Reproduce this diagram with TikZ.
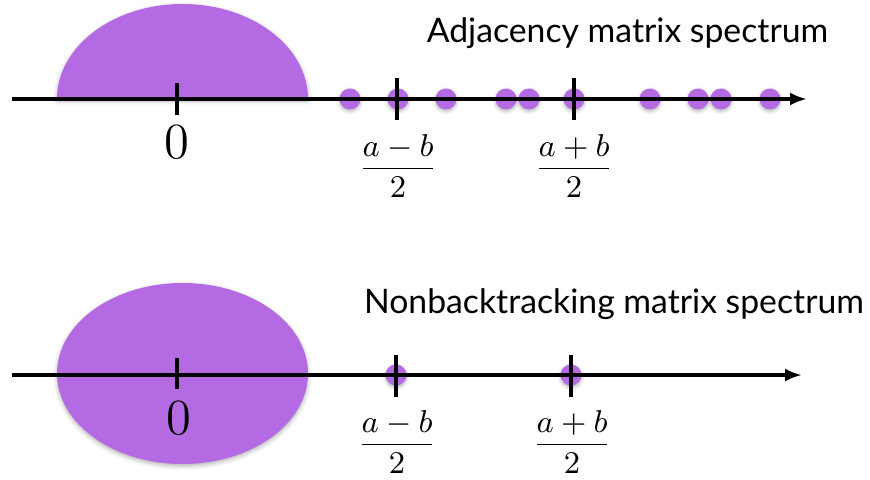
\documentclass[tikz,border=0pt]{standalone}
\usepackage{amsmath}
\usepackage{fontspec}
\setsansfont{Lato}
\usetikzlibrary{arrows.meta,shadows.blur}
\definecolor{violetSpec}{RGB}{180,106,226}

\begin{document}
\begin{tikzpicture}[font=\sffamily,
  dot/.style={circle, fill=violetSpec, inner sep=0pt, minimum size=0.21cm,
              blur shadow={shadow xshift=0pt, shadow yshift=-0.5pt,
                           shadow blur radius=1pt, shadow opacity=30}},
  ombre/.style={blur shadow={shadow xshift=0pt, shadow yshift=-0.6pt,
                             shadow blur radius=1.2pt, shadow opacity=30}},
  axe/.style={-{Latex[length=0.17cm,width=0.13cm]}, line width=0.95pt},
  tickline/.style={line width=1pt},
  titre/.style={font=\sffamily\fontsize{9.6}{12}\selectfont, anchor=base},
  zero/.style={font=\fontsize{14}{16}\selectfont},
  fraction/.style={font=\fontsize{9}{11}\selectfont}]

\useasboundingbox (0,0) rectangle (8.7,4.79);

% --- spectre de la matrice d'adjacence ---
\fill[violetSpec, ombre] (0.57,3.80) arc[start angle=180, end angle=0,
      x radius=1.255, y radius=0.95] -- cycle;

\node[dot] (a1) at (3.50,3.80) {};
\node[dot] (a2) at (3.98,3.80) {};
\node[dot] (a3) at (4.46,3.80) {};
\node[dot] (a4) at (5.06,3.80) {};
\node[dot] (a5) at (5.29,3.80) {};
\node[dot] (a6) at (5.74,3.80) {};
\node[dot] (a7) at (6.50,3.80) {};
\node[dot] (a8) at (6.98,3.80) {};
\node[dot] (a9) at (7.21,3.80) {};
\node[dot] (a10) at (7.70,3.80) {};

\coordinate (axeA-g) at (0.12,3.80);
\coordinate (axeA-d) at (8.07,3.80);
\draw[axe] (axeA-g) -- (axeA-d);

\draw[tickline] (1.77,3.96) -- (1.77,3.64);
\draw[tickline] (3.97,4.01) -- (3.97,3.59);
\draw[tickline] (5.74,4.01) -- (5.74,3.59);

\node[zero] (zeroA) at (1.77,3.365) {$0$};
\node[fraction] (moinsA) at (3.98,3.13) {$\displaystyle\frac{a-b}{2}$};
\node[fraction] (plusA) at (5.74,3.13) {$\displaystyle\frac{a+b}{2}$};

\node[titre] (titreA) at (6.275,4.36) {Adjacency matrix spectrum};

% --- spectre de la matrice non-backtracking ---
\fill[violetSpec, ombre] (1.825,1.055) ellipse [x radius=1.255, y radius=0.905];

\node[dot] (b1) at (3.96,1.04) {};
\node[dot] (b2) at (5.71,1.04) {};

\coordinate (axeB-g) at (0.12,1.04);
\coordinate (axeB-d) at (8.02,1.04);
\draw[axe] (axeB-g) -- (axeB-d);

\draw[tickline] (1.77,1.21) -- (1.77,0.90);
\draw[tickline] (3.96,1.24) -- (3.96,0.82);
\draw[tickline] (5.71,1.24) -- (5.71,0.82);

\node[zero] (zeroB) at (1.79,0.61) {$0$};
\node[fraction] (moinsB) at (3.97,0.37) {$\displaystyle\frac{a-b}{2}$};
\node[fraction] (plusB) at (5.72,0.37) {$\displaystyle\frac{a+b}{2}$};

\node[titre] (titreB) at (6.14,1.66) {Nonbacktracking matrix spectrum};

\end{tikzpicture}
\end{document}
